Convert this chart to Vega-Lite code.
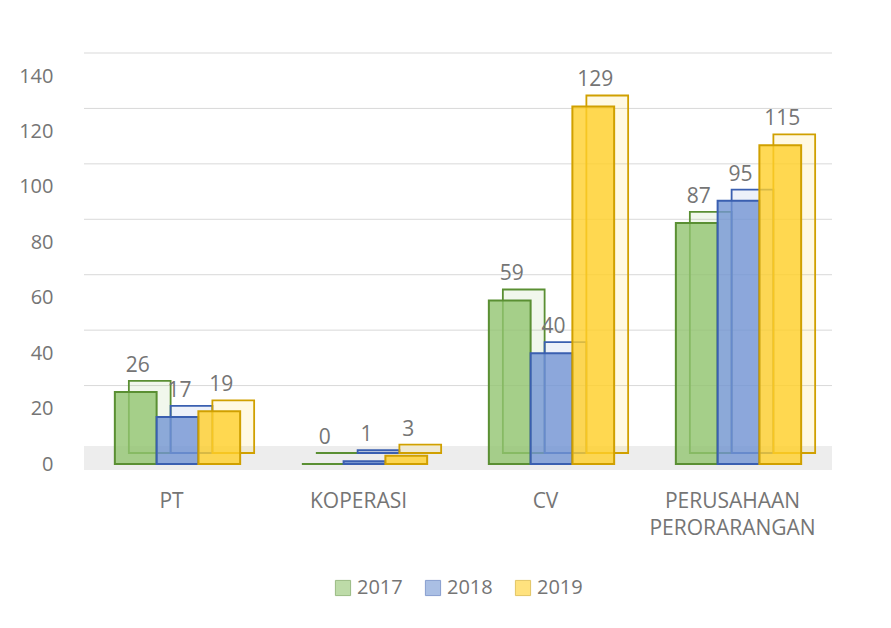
{
  "$schema": "https://vega.github.io/schema/vega-lite/v6.json",
  "width": 748,
  "height": 388,
  "autosize": {"type": "none"},
  "padding": {"left": 84, "top": 76, "right": 59, "bottom": 164},
  "background": "white",
  "config": {
    "view": {"stroke": null},
    "font": "Open Sans",
    "axis": {"labelFont": "Open Sans", "labelColor": "#757575", "labelFontSize": 20},
    "legend": {"layout": {"bottom": {"anchor": "middle"}}}
  },
  "datasets": {
    "bars": [
      {"kategori": "PT", "tahun": "2017", "jumlah": 26},
      {"kategori": "PT", "tahun": "2018", "jumlah": 17},
      {"kategori": "PT", "tahun": "2019", "jumlah": 19},
      {"kategori": "KOPERASI", "tahun": "2017", "jumlah": 0},
      {"kategori": "KOPERASI", "tahun": "2018", "jumlah": 1},
      {"kategori": "KOPERASI", "tahun": "2019", "jumlah": 3},
      {"kategori": "CV", "tahun": "2017", "jumlah": 59},
      {"kategori": "CV", "tahun": "2018", "jumlah": 40},
      {"kategori": "CV", "tahun": "2019", "jumlah": 129},
      {"kategori": "PERUSAHAAN PERORARANGAN", "tahun": "2017", "jumlah": 87},
      {"kategori": "PERUSAHAAN PERORARANGAN", "tahun": "2018", "jumlah": 95},
      {"kategori": "PERUSAHAAN PERORARANGAN", "tahun": "2019", "jumlah": 115}
    ],
    "grid": [
      {"nilai": 20}, {"nilai": 40}, {"nilai": 60}, {"nilai": 80},
      {"nilai": 100}, {"nilai": 120}, {"nilai": 140}
    ],
    "floor": [{"nilai": 0}]
  },
  "data": {"name": "bars"},
  "layer": [
    {
      "data": {"name": "grid"},
      "mark": {"type": "rule", "yOffset": -23, "color": "#D9D9D9", "strokeWidth": 1},
      "encoding": {
        "y": {"field": "nilai", "type": "quantitative", "scale": {"domain": [0, 140]},
          "axis": {"title": null, "values": [0, 20, 40, 60, 80, 100, 120, 140], "ticks": false, "domain": false, "grid": false, "labelPadding": 31}}
      }
    },
    {
      "data": {"name": "floor"},
      "mark": {"type": "rect", "yOffset": 6, "y2Offset": -18, "color": "#EDEDED"},
      "encoding": {
        "y": {"field": "nilai", "type": "quantitative"},
        "y2": {"field": "nilai"}
      }
    },
    {
      "encoding": {
        "x": {
          "field": "kategori",
          "type": "nominal",
          "sort": ["PT", "KOPERASI", "CV", "PERUSAHAAN PERORARANGAN"],
          "scale": {"paddingInner": 0.33, "paddingOuter": 0.165},
          "axis": {
            "title": null,
            "labelAngle": 0,
            "ticks": false,
            "domain": false,
            "labelFontSize": 21,
            "labelPadding": 26,
            "labelOffset": -6,
            "labelLineHeight": 27,
            "labelExpr": "split(datum.value, ' ')"
          }
        },
        "y": {"field": "jumlah", "type": "quantitative"},
        "fill": {"field": "tahun", "type": "nominal",
          "scale": {"domain": ["2017", "2018", "2019"], "range": ["#92C470", "#7395D3", "#FFD02A"]},
          "legend": {
            "title": null,
            "orient": "bottom",
            "direction": "horizontal",
            "offset": 40,
            "symbolType": "square",
            "symbolSize": 230,
            "symbolStrokeWidth": 1,
            "symbolOpacity": 0.6,
            "labelFontSize": 20,
            "labelColor": "#757575",
            "labelFont": "Open Sans",
            "labelOffset": 4,
            "columnPadding": 20
          }
        },
        "stroke": {"field": "tahun", "type": "nominal", "legend": null,
          "scale": {"domain": ["2017", "2018", "2019"], "range": ["#5A8F33", "#3A5FB0", "#D0A000"]}}
      },
      "layer": [
        {
          "mark": {"type": "bar", "yOffset": -11, "y2Offset": -11, "fillOpacity": 0.13, "strokeWidth": 1.8},
          "encoding": {
            "xOffset": {"field": "tahun", "type": "nominal", "scale": {"range": [14, 139.29]}}
          }
        },
        {
          "mark": {"type": "bar", "fillOpacity": 0.8, "strokeWidth": 2},
          "encoding": {
            "xOffset": {"field": "tahun", "type": "nominal", "scale": {"range": [0, 125.29]}}
          }
        },
        {
          "mark": {"type": "text", "dy": -26, "dx": 2, "fontSize": 21, "baseline": "middle"},
          "encoding": {
            "xOffset": {"field": "tahun", "type": "nominal", "scale": {"range": [0, 125.29]}},
            "text": {"field": "jumlah", "type": "quantitative"}, "fill": {"value": "#757575"}, "stroke": {"value": null}}
        }
      ],
      "resolve": {"scale": {"xOffset": "independent"}}
    }
  ],
  "resolve": {"scale": {"xOffset": "independent"}}
}
